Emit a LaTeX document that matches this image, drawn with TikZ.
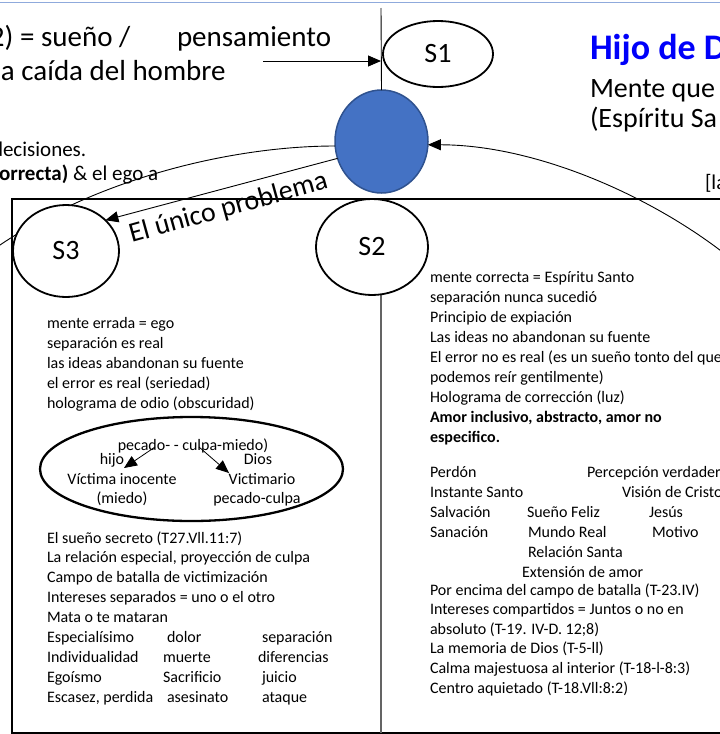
\documentclass[tikz,border=0pt]{standalone}
\usepackage{fontspec}
\setmainfont{Carlito}
\usetikzlibrary{arrows.meta,shapes.geometric}
\definecolor{fillblue}{RGB}{68,114,196}
\definecolor{edgeblue}{RGB}{47,82,143}
\definecolor{topline}{RGB}{143,170,220}
\definecolor{titleblue}{RGB}{0,0,250}
\definecolor{divgray}{RGB}{100,100,100}
\begin{document}
\begin{tikzpicture}[x=1pt,y=-1pt,
  every node/.style={inner sep=0pt,outer sep=0pt},
  bigtxt/.style={font=\fontsize{29}{34}\selectfont,anchor=base west},
  midtxt/.style={font=\fontsize{21}{25}\selectfont,anchor=base west},
  smalltxt/.style={font=\fontsize{16}{19}\selectfont,anchor=base west},
  ctxt/.style={font=\fontsize{16}{19}\selectfont,anchor=base},
  sbubble/.style={ellipse,draw,line width=1.8pt,fill=white,font=\fontsize{28}{32}\selectfont},
  arr/.style={-{Triangle[length=13pt,width=11pt]},line width=0.9pt},
  thinline/.style={line width=0.9pt}]
\useasboundingbox (0,0) rectangle (720,734);
\clip (0,0) rectangle (720,734);

% top light line
\draw[topline,line width=1pt] (0,2.5) -- (720,2.5);

% top left texts
\node[bigtxt] (t1) at (-10,46) {2) = sueño /};
\node[bigtxt] (t2) at (177,46) {pensamiento};
\node[bigtxt] (t3) at (1,80) {a caída del hombre};
\node[midtxt] (t4) at (-8,156) {decisiones.};
\node[midtxt] (t5) at (-1,180) {\textbf{orrecta)} \& el ego a};

% top right texts
\node[font=\fontsize{36}{40}\selectfont\bfseries,text=titleblue,anchor=base west] (title) at (590,59) {Hijo de D};
\node[font=\fontsize{28}{32}\selectfont,anchor=base west] (r1) at (590,97) {Mente que};
\node[font=\fontsize{28}{32}\selectfont,anchor=base west] (r2) at (590,127) {(Espíritu Sa};
\node[midtxt] (la) at (705,189) {[la};

% main box and divider
\draw[line width=2.3pt] (12,199) rectangle (740,733);
\draw[divgray,line width=1.6pt] (381,199) -- (381,733);

% vertical line and arrow to it
\coordinate (vtop) at (381,8);
\coordinate (harr) at (263,61);
\coordinate (offL) at (-10,252);
\coordinate (offR) at (735,262);

% blue circle
\node[ellipse,fill=fillblue,draw=edgeblue,line width=1.5pt,minimum width=93pt,minimum height=103pt] (blue) at (381.5,141.5) {};
\draw[thinline] (vtop) -- (blue.north);
\draw[arr] (harr) -- (harr -| vtop);

% curves
\draw[thinline] (blue.west |- 0,146) .. controls (230,146) and (90,180) .. (offL);
\draw[arr] (offR) .. controls (660,200) and (540,145) .. (blue.-4);

% bubbles
\node[sbubble,minimum width=110pt,minimum height=66pt] (S1) at (438,54) {S1};
\node[sbubble,minimum width=112pt,minimum height=96pt] (S2) at (372,247) {S2};
\node[sbubble,minimum width=106pt,minimum height=92pt] (S3) at (66,251) {S3};

\draw[arr] (blue.201) -- (S3.38);
\node[font=\fontsize{28}{32}\selectfont,anchor=base,rotate=15.5] (prob) at (230.5,215.5) {El único problema};

% left panel text
\node[smalltxt] (l1) at (47,328) {mente errada = ego};
\node[smalltxt] (l2) at (47,348) {separación es real};
\node[smalltxt] (l3) at (47,368) {las ideas abandonan su fuente};
\node[smalltxt] (l4) at (47,388) {el error es real (seriedad)};
\node[smalltxt] (l5) at (47,408) {holograma de odio (obscuridad)};

% inner ellipse
\node[ellipse,draw,line width=2.3pt,minimum width=303pt,minimum height=104pt] (oval) at (191.5,469) {};
\node[ctxt] (pec) at (193,450) {pecado- - culpa-miedo)};
\node[ctxt] (hijo) at (112,464) {hijo};
\node[ctxt] (dios) at (258,464) {Dios};
\node[ctxt] (vict) at (122,484) {Víctima inocente};
\node[ctxt] (victo) at (262,484) {Victimario};
\node[ctxt] (mied) at (122,503) {(miedo)};
\node[ctxt] (pc) at (257,503) {pecado-culpa};
\coordinate (a1s) at (155,447);
\coordinate (a1e) at (124,468);
\coordinate (a2s) at (199,447);
\coordinate (a2e) at (229,473);
\draw[arr,line width=0.8pt] (a1s) -- (a1e);
\draw[arr,line width=0.8pt] (a2s) -- (a2e);

\node[smalltxt] (l6) at (47,543) {El sueño secreto (T27.Vll.11:7)};
\node[smalltxt] (l7) at (47,562) {La relación especial, proyección de culpa};
\node[smalltxt] (l8) at (47,582) {Campo de batalla de victimización};
\node[smalltxt] (l9) at (47,602) {Intereses separados = uno o el otro};
\node[smalltxt] (l10) at (47,622) {Mata o te mataran};
\node[smalltxt] (l11a) at (47,642) {Especialísimo};
\node[smalltxt] (l11b) at (167,642) {dolor};
\node[smalltxt] (l11c) at (262,642) {separación};
\node[smalltxt] (l12a) at (47,662) {Individualidad};
\node[smalltxt] (l12b) at (163,662) {muerte};
\node[smalltxt] (l12c) at (258,662) {diferencias};
\node[smalltxt] (l13a) at (47,682) {Egoísmo};
\node[smalltxt] (l13b) at (163,682) {Sacrificio};
\node[smalltxt] (l13c) at (262,682) {juicio};
\node[smalltxt] (l14a) at (47,702) {Escasez, perdida};
\node[smalltxt] (l14b) at (167,702) {asesinato};
\node[smalltxt] (l14c) at (262,702) {ataque};

% right panel text
\node[smalltxt] (m1) at (430,282) {mente correcta = Espíritu Santo};
\node[smalltxt] (m2) at (430,302) {separación nunca sucedió};
\node[smalltxt] (m3) at (430,322) {Principio de expiación};
\node[smalltxt] (m4) at (430,342) {Las ideas no abandonan su fuente};
\node[smalltxt] (m5) at (430,362) {El error no es real (es un sueño tonto del que};
\node[smalltxt] (m6) at (430,382) {podemos reír gentilmente)};
\node[smalltxt] (m7) at (430,402) {Holograma de corrección (luz)};
\node[smalltxt] (m8) at (430,422) {\textbf{Amor inclusivo, abstracto, amor no}};
\node[smalltxt] (m9) at (430,442) {\textbf{especifico.}};
\node[smalltxt] (n1a) at (430,477) {Perdón};
\node[smalltxt] (n1b) at (587,477) {Percepción verdader};
\node[smalltxt] (n2a) at (430,497) {Instante Santo};
\node[smalltxt] (n2b) at (622,497) {Visión de Cristo};
\node[smalltxt] (n3a) at (430,517) {Salvación};
\node[smalltxt] (n3b) at (527,517) {Sueño Feliz};
\node[smalltxt] (n3c) at (649,517) {Jesús};
\node[smalltxt] (n4a) at (430,537) {Sanación};
\node[smalltxt] (n4b) at (528,537) {Mundo Real};
\node[smalltxt] (n4c) at (652,537) {Motivo};
\node[smalltxt] (n5) at (528,557) {Relación Santa};
\node[smalltxt] (n6) at (522,577) {Extensión de amor};
\node[smalltxt] (n7) at (430,595) {Por encima del campo de batalla (T-23.IV)};
\node[smalltxt] (n8) at (430,614) {Intereses compartidos = Juntos o no en};
\node[smalltxt] (n9) at (430,634) {absoluto (T-19. IV-D. 12;8)};
\node[smalltxt] (n10) at (430,653) {La memoria de Dios (T-5-ll)};
\node[smalltxt] (n11) at (430,673) {Calma majestuosa al interior (T-18-l-8:3)};
\node[smalltxt] (n12) at (430,693) {Centro aquietado (T-18.Vll:8:2)};
\end{tikzpicture}
\end{document}
